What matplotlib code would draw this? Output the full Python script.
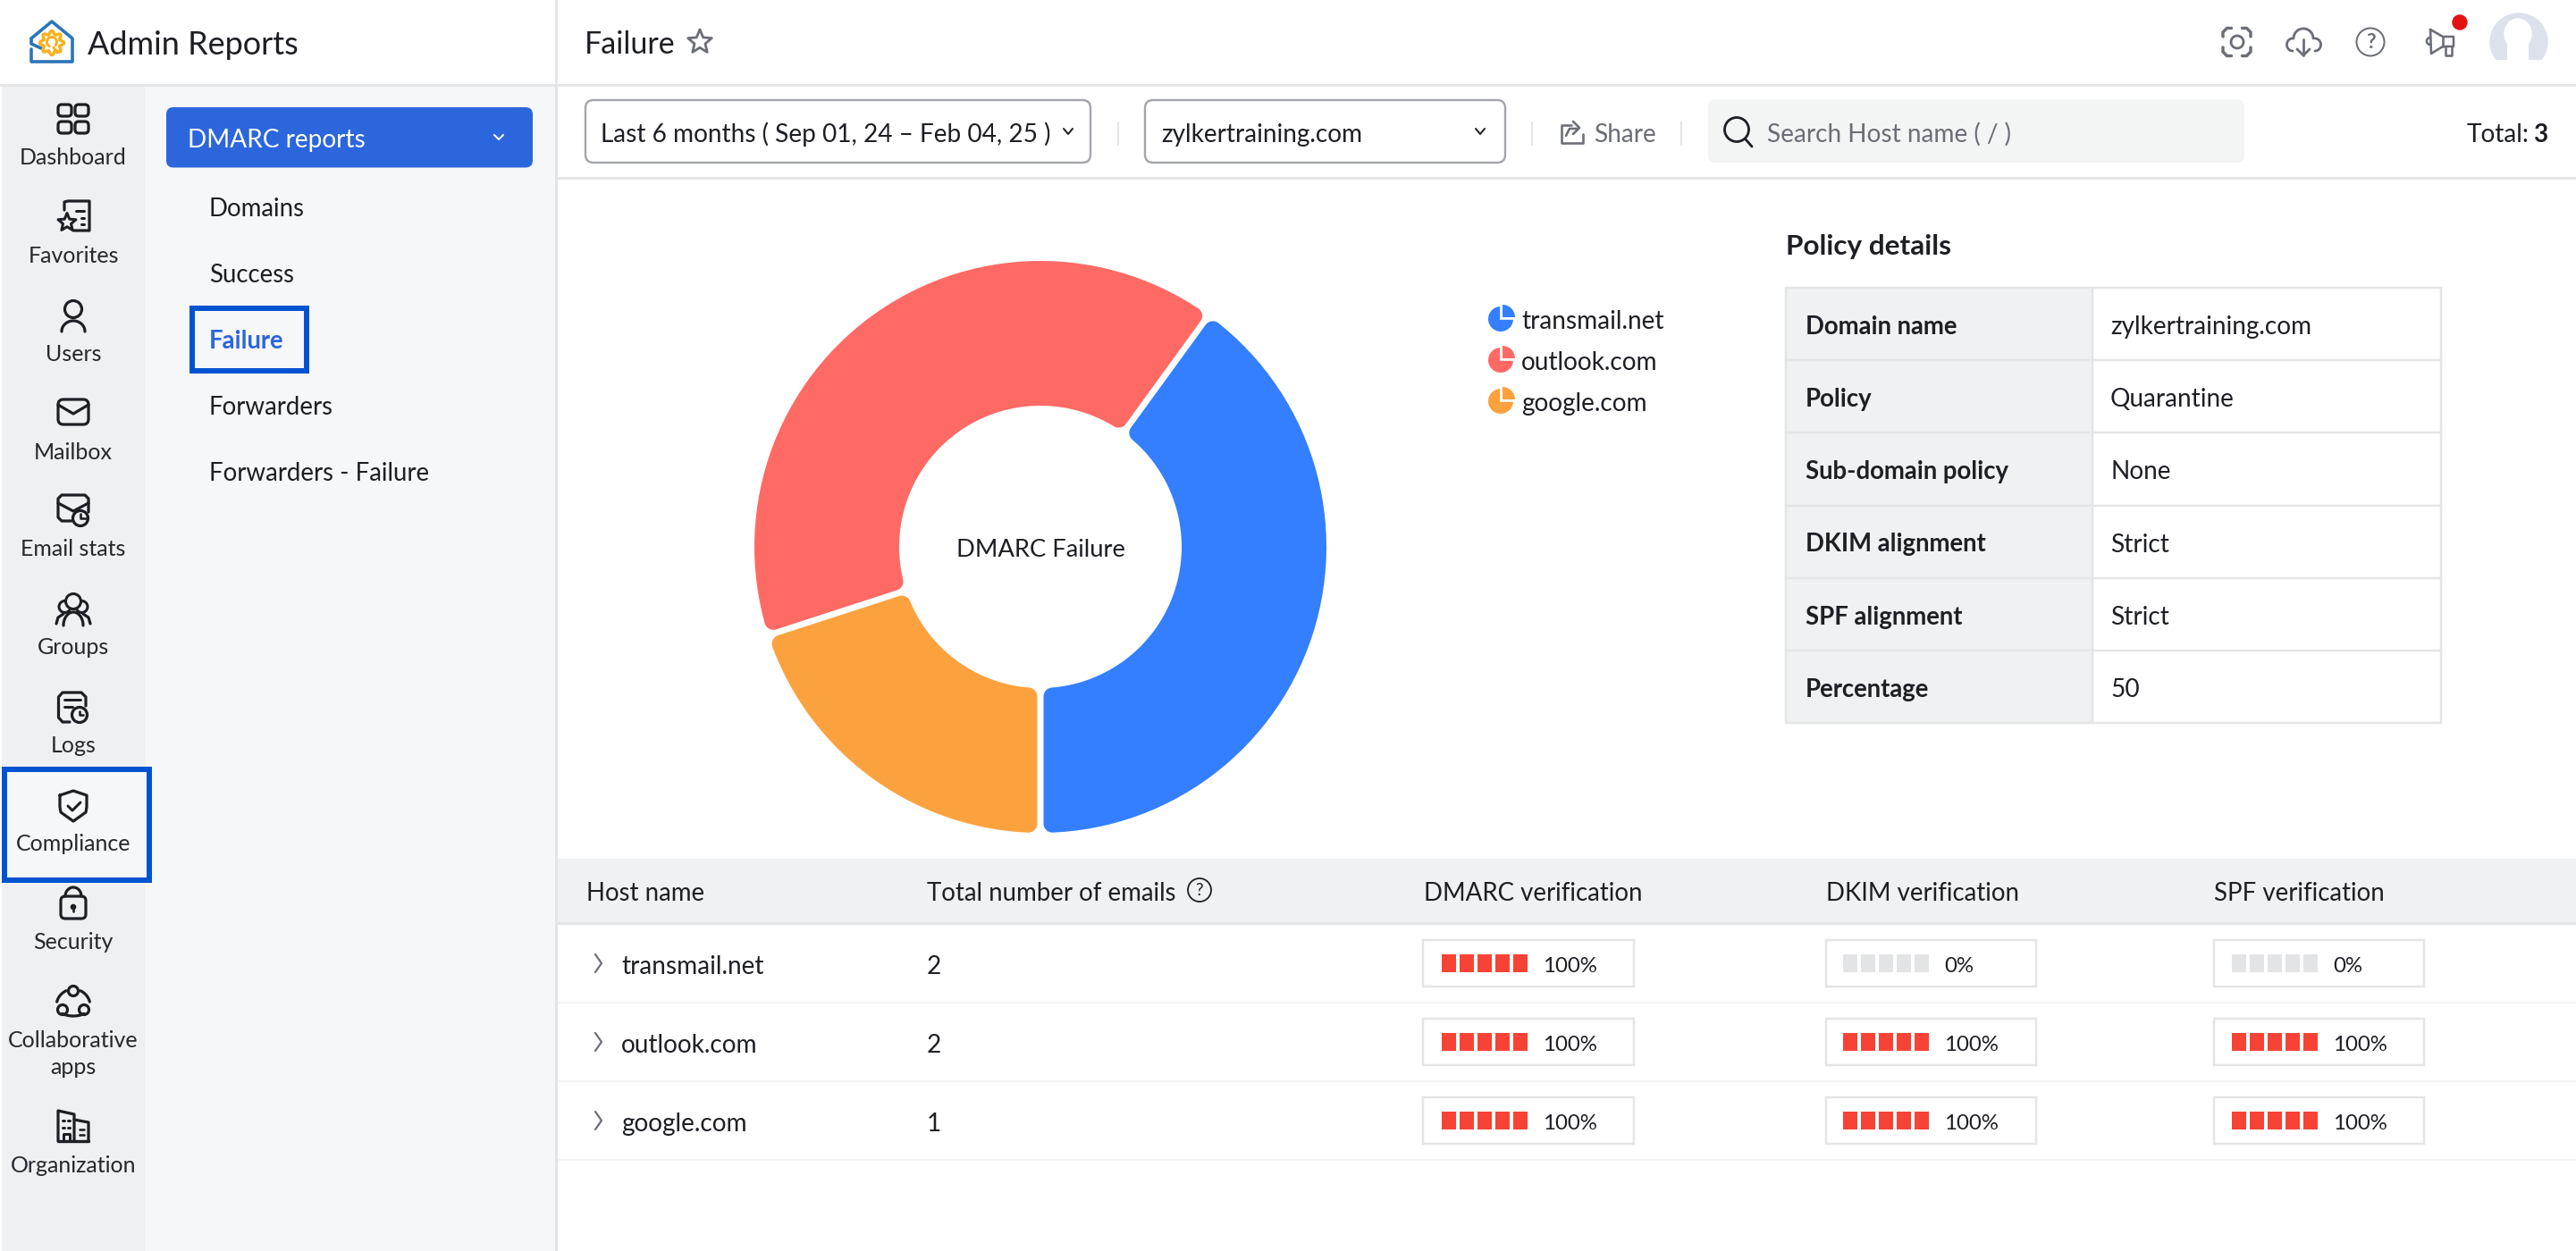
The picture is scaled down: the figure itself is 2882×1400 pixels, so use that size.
import numpy as np
import matplotlib
matplotlib.use("Agg")
from matplotlib import pyplot as plt
from matplotlib.patches import Circle, Ellipse, FancyBboxPatch, Polygon, Rectangle, Wedge

plt.rcParams['font.family'] = ['Lato', 'DejaVu Sans']

# data
hosts = ['transmail.net', 'outlook.com', 'google.com']
host_colors = ['#347fff', '#ff6a65', '#fba23f']
email_counts = [2, 2, 1]
dmarc_pct = [100, 100, 100]
dkim_pct = [0, 100, 100]
spf_pct = [0, 100, 100]
policy_keys = ['Domain name', 'Policy', 'Sub-domain policy', 'DKIM alignment', 'SPF alignment', 'Percentage']
policy_values = ['zylkertraining.com', 'Quarantine', 'None', 'Strict', 'Strict', '50']
menu_items = ['Domains', 'Success', 'Failure', 'Forwarders', 'Forwarders - Failure']
table_headers = ['Host name', 'Total number of emails', 'DMARC verification', 'DKIM verification', 'SPF verification']

W, H = 2882, 1400
DARK = '#1d1f24'
GREY = '#6b6e76'
LINE = '#e4e5e7'
BLUE = '#2c66dd'
BOX = '#0053d0'
ORANGE = '#fbb01c'

fig = plt.figure(figsize=(W / 100, H / 100), dpi=100, facecolor='white')
ax = fig.add_axes([0, 0, 1, 1])
ax.set_xlim(0, W)
ax.set_ylim(H, 0)
ax.axis('off')


def px(v):
    return v * 0.72


def label(x, yc, s, size, color=DARK, ha='left', weight='normal'):
    # yc is the middle of the capitals
    return ax.text(x, yc + 1.5 + 0.36 * size, s, fontsize=px(size), color=color, ha=ha, va='baseline', fontweight=weight, zorder=6)


def rect(x0, y0, x1, y1, fc, ec='none', lw=0, z=1):
    ax.add_patch(Rectangle((x0, y0), x1 - x0, y1 - y0, facecolor=fc, edgecolor=ec, linewidth=px(lw), zorder=z))


def rrect(x0, y0, x1, y1, r, fc='none', ec=DARK, lw=3.2, z=3):
    ax.add_patch(FancyBboxPatch((x0 + r, y0 + r), x1 - x0 - 2 * r, y1 - y0 - 2 * r, boxstyle='round,pad=%f,rounding_size=%f' % (r, r),
                                facecolor=fc, edgecolor=ec, linewidth=px(lw), zorder=z))


def stroke(xs, ys, color=DARK, lw=3.2, z=3):
    ax.plot(xs, ys, color=color, linewidth=px(lw), solid_capstyle='round', solid_joinstyle='round', zorder=z)


def ring(x, y, r, color=DARK, lw=3.2, fc='none', z=3):
    ax.add_patch(Circle((x, y), r, facecolor=fc, edgecolor=color, linewidth=px(lw), zorder=z))


def arc(x, y, rx, ry, a0, a1, color=DARK, lw=3.2, z=3):
    t = np.radians(np.linspace(a0, a1, 40))
    stroke(x + rx * np.cos(t), y + ry * np.sin(t), color, lw, z)


def star(x, y, r, color=DARK, lw=3):
    t = np.radians(np.arange(0, 360, 36) - 90)
    rad = np.where(np.arange(10) % 2 == 0, r, r * 0.45)
    ax.add_patch(Polygon(np.c_[x + rad * np.cos(t), y + rad * np.sin(t)], closed=True, facecolor='none', edgecolor=color,
                         linewidth=px(lw), joinstyle='round', zorder=4))


# backgrounds
rect(2, 95, 162, H, '#eff0f2')
rect(162, 95, 621, H, '#f6f7f9')
rect(0, 93.5, 621, 96.5, LINE, z=2)
rect(621, 0, 623.5, H, LINE, z=2)
rect(623, 93.5, W, 96.5, LINE, z=2)
rect(623, 197.5, W, 200.5, LINE, z=2)

# logo
stroke([35, 35, 46], [43, 49, 54], '#2b74b9', 3.6)
stroke([35, 58, 81, 81, 35, 35], [43, 24, 43, 69, 69, 55], '#2b74b9', 3.6)
th = np.linspace(0, 2 * np.pi, 200)
gear_r = 11.5 + 2 * np.cos(8 * th)
stroke(58 + gear_r * np.cos(th), 48 + gear_r * np.sin(th), ORANGE, 3.4, 4)
arc(58, 47, 5.5, 5.5, 120, 400, ORANGE, 3, 4)
stroke([60, 64], [53, 59], ORANGE, 3, 4)
label(98, 47, 'Admin Reports', 36)

# side rail icons and names
rail_labels = [('Dashboard', 173), ('Favorites', 283), ('Users', 393), ('Mailbox', 503), ('Email stats', 612), ('Groups', 722),
               ('Logs', 832), ('Compliance', 942), ('Security', 1052), ('Organization', 1301)]

rect(5, 861, 167, 985, '#f6f7f9', BOX, 6, z=2)
for name, y in rail_labels:
    label(82, y, name, 25, '#26282d', ha='center')
label(82, 1161, 'Collaborative', 25, '#26282d', ha='center')
label(82, 1192, 'apps', 25, '#26282d', ha='center')

# dashboard
for x0 in (65, 84):
    for y0 in (117, 136):
        rrect(x0, y0, x0 + 15, y0 + 13, 4)
# favorites
stroke([72, 72, 76, 100, 100, 96, 82], [235, 226, 225, 225, 258, 258, 258])
stroke([85, 94], [236, 236], lw=3)
stroke([91, 94], [244, 244], lw=3)
stroke([91, 94], [251, 251], lw=3)
star(75, 249, 10.5)
# users
ring(82, 346, 9.5)
arc(82, 371, 13, 12, 180, 360)
# mailbox
rrect(65, 447, 99, 475, 6)
stroke([65, 82, 99], [453, 463, 453])
# email stats
stroke([80, 69, 65, 65, 69, 95, 99, 99], [583, 583, 579, 558, 554, 554, 558, 573])
stroke([65, 82, 99], [563, 572, 563])
ring(90, 580, 8.5)
stroke([90, 90, 96], [575, 580, 580], lw=2.6)
# groups
ring(72.5, 679, 6.5, lw=3)
ring(91.5, 679, 6.5, lw=3)
ax.add_patch(Circle((82, 673), 7, color='#eff0f2', zorder=4))
ring(82, 673, 8.5, lw=3, z=5)
arc(82, 700, 11, 15, 180, 360)
stroke([63, 65, 71], [698, 691, 687])
stroke([101, 99, 93], [698, 691, 687])
# logs
stroke([78, 70, 65.5, 65.5, 70, 91, 96, 96], [808, 808, 803, 780, 775, 775, 780, 790])
stroke([72, 90], [783, 783], lw=3)
stroke([72, 81], [791, 791], lw=3)
ring(89, 800, 8.5)
stroke([89, 89, 93], [796, 800, 800], lw=2.6)
# compliance
stroke([67, 82, 97, 97, 96, 82, 68, 67, 67], [890, 885, 890, 903, 909, 919, 909, 903, 890])
stroke([76, 81, 90], [902, 907, 898], lw=3)
# security
rrect(68, 1003, 96, 1028, 5)
arc(82, 1003, 9, 10, 180, 360)
ax.add_patch(Circle((82, 1015), 2.6, color=DARK, zorder=4))
stroke([82, 82], [1015, 1020], lw=2.6)
# collaborative
ring(82, 1109, 5.5)
ring(70, 1130, 5.5)
ring(94, 1130, 5.5)
arc(82, 1126, 19, 19, 195, 245)
arc(82, 1126, 19, 19, 295, 345)
arc(82, 1126, 19, 11, 50, 130)
# organization
stroke([65, 65, 83, 83], [1277, 1243, 1247, 1277])
stroke([83, 99, 99], [1253, 1256, 1277])
stroke([65, 99], [1277, 1277], lw=3.4)
for yy in (1254, 1262):
    stroke([70, 72], [yy, yy], lw=3)
    stroke([76, 78], [yy, yy], lw=3)
stroke([71, 71, 78, 78], [1277, 1269, 1269, 1277], lw=3)
stroke([89, 94], [1264, 1264], lw=2.6)
stroke([89, 94], [1270, 1270], lw=2.6)

# sub menu
rrect(186, 120, 596, 187.5, 8, fc=BLUE, ec='none', lw=0, z=2)
label(210, 153, 'DMARC reports', 28, 'white')
stroke([553, 558, 563], [151, 156, 151], 'white', 2)
for i, item in enumerate(menu_items):
    yc = 230.5 + i * 74
    if item == 'Failure':
        label(234, yc, item, 27.5, BLUE, weight='bold')
    else:
        label(234, yc, item, 27.6)
rect(215, 345, 343, 415, 'none', BOX, 6, z=3)

# page header
label(654, 46, 'Failure', 34)
star(783, 47, 14, GREY, 2.8)
# scan icon
for sx, sy in ((-1, -1), (1, -1), (-1, 1), (1, 1)):
    stroke([2502.5 + sx * 15.5, 2502.5 + sx * 15.5, 2502.5 + sx * 11, 2502.5 + sx * 6],
           [47 + sy * 6, 47 + sy * 11, 47 + sy * 15.5, 47 + sy * 15.5], GREY, 3.4)
ring(2503, 47, 7, GREY, 2.8)
# cloud
arc(2577, 43, 11, 11, 180, 360, GREY, 2.8)
arc(2565, 50, 6.5, 7, 90, 270, GREY, 2.8)
arc(2590, 50, 6.5, 7, -90, 90, GREY, 2.8)
stroke([2577, 2577], [44, 62], GREY, 2.8)
stroke([2570, 2577, 2584], [55, 62, 55], GREY, 2.8)
# help
ring(2652, 47, 15.5, GREY, 2)
ax.text(2652, 47, '?', fontsize=px(23), color=GREY, ha='center', va='center', fontweight='bold', zorder=4)
# megaphone
stroke([2719, 2733, 2745, 2745, 2733, 2720, 2719], [33, 41, 41, 52, 52, 60, 33], GREY, 2.6)
stroke([2733, 2733], [41, 52], GREY, 2.6)
stroke([2736, 2736, 2743, 2743], [52, 62, 62, 52], GREY, 2.6)
arc(2719, 46, 4, 4, 90, 270, GREY, 2.6)
ax.add_patch(Circle((2752, 25), 8, color='#e31212', zorder=5))
# avatar
ax.add_patch(Circle((2818, 47), 32, color='#dde1ec', zorder=3))
ax.add_patch(Ellipse((2817, 38), 30, 34, color='white', zorder=4))
rect(2805, 40, 2829, 72, 'white', z=4)
rect(2780, 67, 2856, 84, 'white', z=4)

# filter bar
rrect(655, 112, 1220, 182, 9, fc='white', ec='#a3a5ab', lw=2.4)
label(672, 147, 'Last 6 months ( Sep 01, 24 \u2013 Feb 04, 25 )', 28)
stroke([1190, 1195, 1200], [144, 150, 144], DARK, 2)
rect(1250, 136, 1252, 163, LINE)
rrect(1281, 112, 1684, 182, 9, fc='white', ec='#a3a5ab', lw=2.4)
label(1299, 147, 'zylkertraining.com', 28)
stroke([1651, 1656, 1661], [144, 150, 144], DARK, 2)
rect(1713, 136, 1715, 163, LINE)
stroke([1758, 1747, 1747, 1771, 1771], [140, 140, 160, 160, 150], GREY, 2.6)
stroke([1752, 1756, 1766], [152, 144, 144], GREY, 2.6)
stroke([1760, 1767, 1760], [136, 143, 150], GREY, 2.6)
label(1783, 147, 'Share', 28, GREY)
rect(1880, 136, 1882, 163, LINE)
rrect(1911, 111, 2511, 182, 8, fc='#f3f4f4', ec='none', lw=0, z=2)
ring(1943, 145, 13.5, DARK, 2.8)
stroke([1953, 1960], [156, 164], DARK, 2.8)
label(1977, 147, 'Search Host name ( / )', 28, GREY)
label(2850, 147, '3', 28, weight='bold', ha='right')
label(2829, 147, 'Total:', 28, ha='right')

# donut
PIE_X, PIE_Y, R_PX, HOLE_PX = 1164, 612, 320, 158
pie_ax = fig.add_axes([(PIE_X - R_PX) / W, 1 - (PIE_Y + R_PX) / H, 2 * R_PX / W, 2 * R_PX / H])
wedges, _ = pie_ax.pie(email_counts, colors=host_colors, startangle=270, radius=1, wedgeprops=dict(width=1 - HOLE_PX / R_PX, linewidth=0))
pie_ax.set_xlim(-1, 1)
pie_ax.set_ylim(-1, 1)
pie_ax.set_frame_on(False)


def slice_outline(t1, t2, ro=1.0, ri=HOLE_PX / R_PX, rc=10 / R_PX, gap=7 / R_PX):
    # slice with parallel gaps and round corners
    a, b = np.radians(t1), np.radians(t2)
    d = gap / 2 + rc
    r_o, r_i = ro - rc, ri + rc
    a_o, b_o = a + np.arcsin(d / r_o), b - np.arcsin(d / r_o)
    a_i, b_i = a + np.arcsin(d / r_i), b - np.arcsin(d / r_i)
    pts = []

    def sweep(cx, cy, r, s, e):
        for v in np.linspace(s, e, 60):
            pts.append((cx + r * np.cos(v), cy + r * np.sin(v)))

    sweep(r_o * np.cos(a_o), r_o * np.sin(a_o), rc, a - np.pi / 2, a_o)
    sweep(0, 0, ro, a_o, b_o)
    sweep(r_o * np.cos(b_o), r_o * np.sin(b_o), rc, b_o, b + np.pi / 2)
    sweep(r_i * np.cos(b_i), r_i * np.sin(b_i), rc, b + np.pi / 2, b_i + np.pi)
    sweep(0, 0, ri, b_i, a_i)
    sweep(r_i * np.cos(a_i), r_i * np.sin(a_i), rc, a_i + np.pi, a + 3 * np.pi / 2)
    return pts


for w in wedges:
    pie_ax.add_patch(Polygon(slice_outline(w.theta1, w.theta2), closed=True, facecolor=w.get_facecolor(), edgecolor='none'))
    w.set_visible(False)
pie_ax.text(0, -0.012, 'DMARC Failure', fontsize=px(27.4), color=DARK, ha='center', va='center')

# legend
for i, (host, col) in enumerate(zip(hosts, host_colors)):
    yc = 357 + i * 46
    ax.add_patch(Wedge((1679, yc), 14, 0, 270, facecolor=col, edgecolor='none', zorder=3))
    ax.add_patch(Wedge((1681, yc - 2), 14, 270, 360, facecolor=col, edgecolor='none', zorder=3))
    stroke([1679, 1679], [yc - 16, yc], 'white', 1.6, 4)
    stroke([1679, 1695], [yc, yc], 'white', 1.6, 4)
    label(1702, yc - 1, host, 28)

# policy table
label(1998, 272, 'Policy details', 31.5, weight='bold')
top, bottom, left, mid, right = 322, 809, 1998, 2341, 2731
row_h = (bottom - top) / len(policy_keys)
rect(left, top, mid, bottom, '#f0f1f3')
rect(left, top, right, bottom, 'none', LINE, 2.5, z=2)
ax.plot([mid, mid], [top, bottom], color=LINE, linewidth=px(2.5), zorder=2)
for i, (key, val) in enumerate(zip(policy_keys, policy_values)):
    yc = top + (i + 0.5) * row_h
    if i:
        ax.plot([left, right], [top + i * row_h] * 2, color=LINE, linewidth=px(2.5), zorder=2)
    label(2020, yc, key, 27.5, weight='bold')
    label(2361, yc, val, 28)

# host table
rect(623, 961, W, 1033, '#f0f1f3')
rect(623, 1032, W, 1035, LINE, z=2)
header_x = [656, 1037, 1593, 2043, 2477]
for x, name in zip(header_x, table_headers):
    label(x, 997, name, 27.6)
ring(1342, 996, 13, DARK, 1.8)
ax.text(1342, 996, '?', fontsize=px(19), color=DARK, ha='center', va='center')

row_y = [1078, 1166, 1254]
box_x = [(1592, 1828, 1612.5, 1726), (2043, 2278, 2062, 2175), (2477, 2712, 2497, 2610)]
for i, host in enumerate(hosts):
    yc = row_y[i]
    rect(623, yc + 43, W, yc + 45, '#f2f3f4')
    stroke([666, 673, 666], [yc - 10, yc, yc + 10], GREY, 2.2)
    label(695, yc, host, 28)
    label(1037, yc, str(email_counts[i]), 28)
    for (x0, x1, bar_x, txt_x), pct in zip(box_x, (dmarc_pct[i], dkim_pct[i], spf_pct[i])):
        rect(x0, yc - 26, x1, yc + 26, 'white', LINE, 2.5, z=2)
        filled = pct // 20
        for c in range(5):
            cx = bar_x + c * 20
            rect(cx, yc - 10, cx + 16, yc + 10, '#f74336' if c < filled else '#e3e4e6', z=3)
        label(txt_x, yc, '%d%%' % pct, 24)

fig.savefig('out.png', dpi=100, facecolor='white')
